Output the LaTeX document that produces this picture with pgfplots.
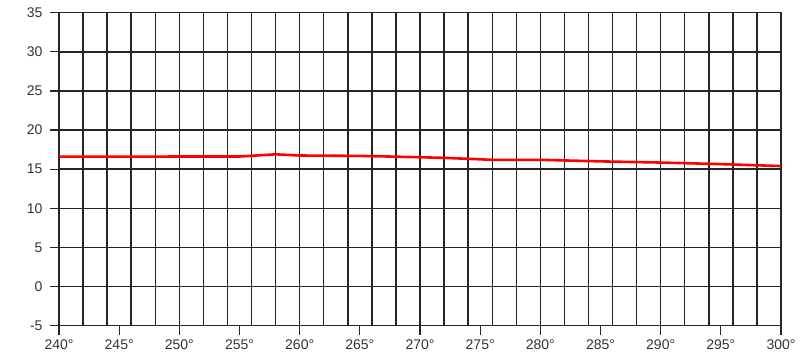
\documentclass[border=0pt]{standalone}
\usepackage{pgfplots}
\pgfplotsset{compat=1.18}
\usepackage{fontspec}
\setmainfont{Liberation Sans}
\begin{document}
\begin{tikzpicture}
\begin{axis}[
  at={(0,0)}, anchor=south west,
  scale only axis, width=722pt, height=313pt,
  xmin=240, xmax=300, ymin=-5, ymax=35,
  xtick={240,245,...,300},
  ytick={-5,0,...,35},
  extra x ticks={242,244,...,298},
  extra x tick style={grid=major, major tick length=0pt, xticklabels={}},
  xmajorgrids=false, ymajorgrids=true,
  grid style={black!85, line width=1.4pt},
  axis line style={black!85, line width=1.4pt},
  tick style={black!85, line width=1.2pt},
  tick align=outside,
  xtick pos=bottom, ytick pos=left,
  major tick length=9pt,
  /pgf/number format/assume math mode=true,
  xticklabel={\pgfmathprintnumber[int detect]{\tick}°},
  yticklabel={\pgfmathprintnumber[int detect]{\tick}},
  ticklabel style={font=\fontsize{14}{16}\selectfont, text=black!80},
  xticklabel style={yshift=-1pt},
  yticklabel style={xshift=-4pt},
]
\addplot[red, line width=2.6pt] coordinates {
(240,16.6) (245,16.6) (250,16.62) (255,16.62) (258,16.9) (260,16.75)
(265,16.7) (268,16.6) (272,16.45) (276,16.2) (280,16.2) (285,16.0)
(290,15.85) (295,15.65) (300,15.4)
};
\end{axis}
\pgfresetboundingbox
\path (-59pt,-32.3pt) rectangle (744pt,325.7pt);
\end{tikzpicture}
\end{document}
